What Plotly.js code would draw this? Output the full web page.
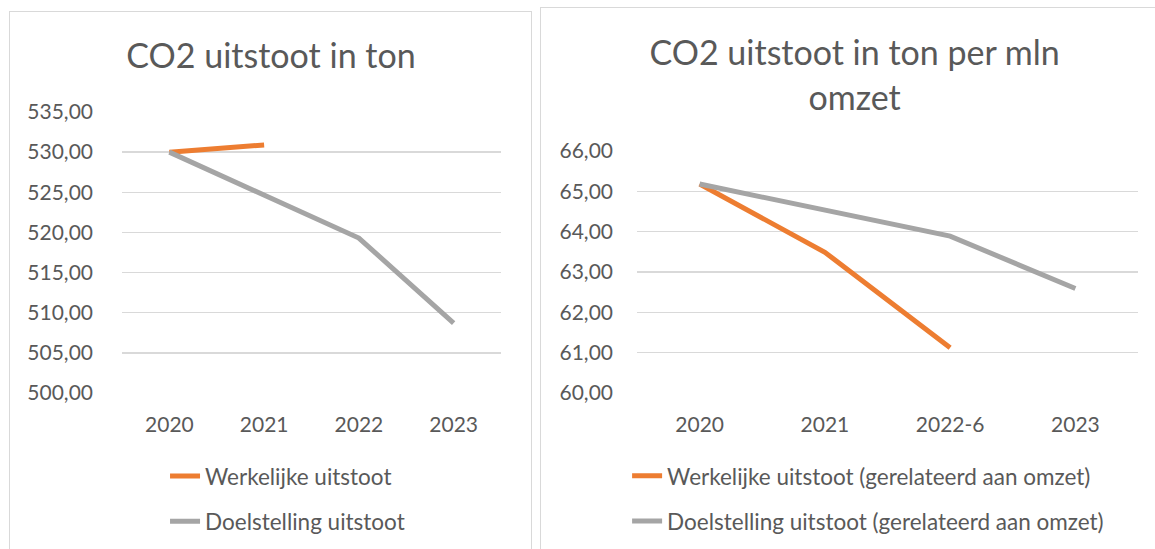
<!DOCTYPE html>
<html>
<head>
<meta charset="utf-8">
<script src="https://cdn.plot.ly/plotly-3.0.1.min.js"></script>
<style>
  html, body { margin: 0; padding: 0; background: #ffffff; width: 1155px; height: 549px; overflow: hidden; }
  .box { position: absolute; border: 1px solid #d9d9d9; box-sizing: border-box; background: #fff; }
  #c1 { left: 9px; top: 11px; width: 523px; height: 560px; }
  #c2 { left: 540px; top: 7px; width: 630px; height: 560px; }
  .plot { position: absolute; left: 0; top: 0; }
</style>
</head>
<body>
<div id="c1" class="box"><div id="p1" class="plot"></div></div>
<div id="c2" class="box"><div id="p2" class="plot"></div></div>
<script>
// ---- data ----
const yearsLeft = ["2020", "2021", "2022", "2023"];
const actualLeft = [530.0, 530.9, null, null];
const targetLeft = [530.0, 524.65, 519.3, 508.7];

const yearsRight = ["2020", "2021", "2022-6", "2023"];
const actualRight = [65.18, 63.49, 61.12, null];
const targetRight = [65.18, 64.55, 63.89, 62.59];

const titleLeft = "CO2 uitstoot in ton";
const titleRight = "CO2 uitstoot in ton per mln<br>omzet";
const nameActualLeft = "Werkelijke uitstoot";
const nameTargetLeft = "Doelstelling uitstoot";
const nameActualRight = "Werkelijke uitstoot (gerelateerd aan omzet)";
const nameTargetRight = "Doelstelling uitstoot (gerelateerd aan omzet)";

// ---- style ----
const FONT = "Lato, 'Open Sans', sans-serif";
const TXT = "#595959";
const ORANGE = "#ED7D31";
const GRAY = "#A5A5A5";

function traces(x, a, t, na, nt) {
  return [
    { x: x, y: a, name: na, type: "scatter", mode: "lines", connectgaps: false,
      line: { color: ORANGE, width: 5 }, legendgroup: "a", hoverinfo: "skip" },
    { x: x, y: t, name: nt, type: "scatter", mode: "lines",
      line: { color: GRAY, width: 5 }, legendgroup: "b", hoverinfo: "skip" }
  ];
}

function layout(opts) {
  return {
    width: opts.w, height: opts.h,
    margin: Object.assign({ autoexpand: false }, opts.m),
    paper_bgcolor: "rgba(0,0,0,0)", plot_bgcolor: "rgba(0,0,0,0)",
    separators: ",.",
    font: { family: FONT, color: TXT, size: 21 },
    title: { text: opts.title, x: opts.tx, xref: "container", xanchor: "center",
             y: opts.ty, yref: "container", yanchor: "middle",
             font: { family: FONT, size: opts.tsize, color: TXT } },
    showlegend: true,
    legend: { orientation: "v", xref: "container", yref: "container",
              x: opts.lx, y: opts.ly, xanchor: "left", yanchor: "top",
              traceorder: "grouped", tracegroupgap: 13,
              font: { family: FONT, size: 22.5, color: TXT }, bgcolor: "rgba(0,0,0,0)" },
    xaxis: { type: "category", range: [-0.5, 3.5], showgrid: false, zeroline: false,
             showline: false, ticks: "", ticklabelstandoff: 17, fixedrange: true,
             tickangle: 0, automargin: false,
             tickfont: { family: FONT, size: 21, color: TXT } },
    yaxis: { range: opts.yr, dtick: opts.dt, tick0: opts.yr[0], tickformat: ".2f",
             showgrid: true, gridcolor: "#D9D9D9", gridwidth: 1.5, zeroline: false,
             showline: false, ticks: "", ticklabelstandoff: opts.ys, fixedrange: true,
             automargin: false,
             tickfont: { family: FONT, size: 21, color: TXT } }
  };
}

const cfg = { staticPlot: true, displayModeBar: false };

Plotly.newPlot("p1",
  traces(yearsLeft, actualLeft, targetLeft, nameActualLeft, nameTargetLeft),
  layout({ w: 522, h: 538, m: { l: 112, r: 31, t: 100, b: 157 },
           title: titleLeft, tx: 0.5, ty: 0.918, tsize: 34,
           lx: 0.297, ly: 0.177, yr: [500, 535], dt: 5, ys: 28 }), cfg);

Plotly.newPlot("p2",
  traces(yearsRight, actualRight, targetRight, nameActualRight, nameTargetRight),
  layout({ w: 615, h: 542, m: { l: 96, r: 18, t: 143, b: 157 },
           title: titleRight, tx: 0.51, ty: 0.894, tsize: 34,
           lx: 0.14, ly: 0.176, yr: [60, 66], dt: 1, ys: 23 }), cfg);
</script>
</body>
</html>
